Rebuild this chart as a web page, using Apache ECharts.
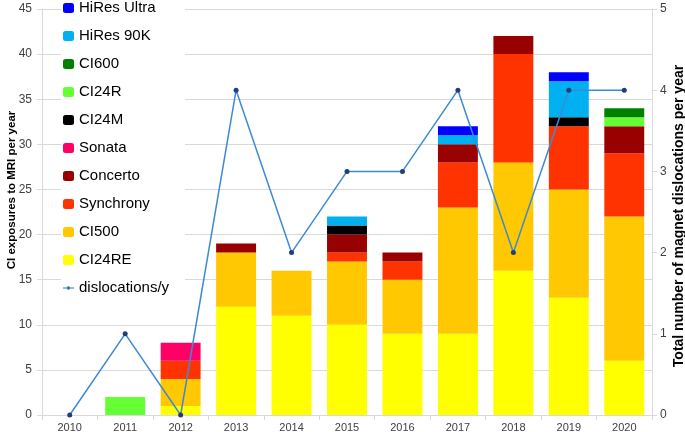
<!DOCTYPE html>
<html>
<head>
    <meta charset="utf-8">
    <title>CI MRI exposures</title>
    <script src="https://cdn.jsdelivr.net/npm/echarts@6/dist/echarts.min.js"></script>
    <style>
        html, body {margin:0;padding:0;background:#fff}
        #chart {width:685px;height:432px}
    </style>
</head>
<body>
<div id="chart"></div>
<script>
    // data
    var years = ['2010','2011','2012','2013','2014','2015','2016','2017','2018','2019','2020'];
    var ci24re     = [0, 0, 1, 12, 11, 10, 9, 9, 16, 13, 6];
    var ci500      = [0, 0, 3, 6, 5, 7, 6, 14, 12, 12, 16];
    var synchrony  = [0, 0, 2, 0, 0, 1, 2, 5, 12, 7, 7];
    var concerto   = [0, 0, 0, 1, 0, 2, 1, 2, 2, 0, 3];
    var sonata     = [0, 0, 2, 0, 0, 0, 0, 0, 0, 0, 0];
    var ci24m      = [0, 0, 0, 0, 0, 1, 0, 0, 0, 1, 0];
    var ci24r      = [0, 2, 0, 0, 0, 0, 0, 0, 0, 0, 1];
    var ci600      = [0, 0, 0, 0, 0, 0, 0, 0, 0, 0, 1];
    var hires90k   = [0, 0, 0, 0, 0, 1, 0, 1, 0, 4, 0];
    var hiresUltra = [0, 0, 0, 0, 0, 0, 0, 1, 0, 1, 0];
    var dislocations = [0, 1, 0, 4, 2, 3, 3, 4, 2, 4, 4];

    var leftTicks = {min: 0, max: 45, interval: 5};
    var rightTicks = {min: 0, max: 5, interval: 1};

    // stack order, bottom to top
    var stackDefs = [
        {name: 'CI24RE', data: ci24re, color: '#FFFF00'},
        {name: 'CI500', data: ci500, color: '#FFC800'},
        {name: 'Synchrony', data: synchrony, color: '#FF3300'},
        {name: 'Concerto', data: concerto, color: '#990000'},
        {name: 'Sonata', data: sonata, color: '#FF0066'},
        {name: 'CI24M', data: ci24m, color: '#000000'},
        {name: 'CI24R', data: ci24r, color: '#66FF33'},
        {name: 'CI600', data: ci600, color: '#008000'},
        {name: 'HiRes 90K', data: hires90k, color: '#00B0F0'},
        {name: 'HiRes Ultra', data: hiresUltra, color: '#0000FF'}
    ];

    var font = '"Liberation Sans", Arial, sans-serif';
    var series = stackDefs.map(function (d) {
        return {
            name: d.name,
            type: 'bar',
            stack: 'total',
            barWidth: '72%',
            itemStyle: {color: d.color},
            data: d.data
        };
    });
    series.push({
        name: 'dislocations/y',
        type: 'line',
        yAxisIndex: 1,
        symbol: 'circle',
        symbolSize: 5,
        lineStyle: {color: '#3C8AD4', width: 1.5},
        itemStyle: {color: '#1F3F78'},
        data: dislocations
    });

    var legendData = stackDefs.map(function (d) { return d.name; }).reverse();
    // line + dot icon for the line series
    legendData.push({
        name: 'dislocations/y',
        icon: 'path://M0,4.5L12,4.5L12,5.5L0,5.5Z M6,3.2A1.8,1.8 0 1 1 6,6.8A1.8,1.8 0 1 1 6,3.2Z',
        itemStyle: {color: '#2F6FB8'}
    });

    var chart = echarts.init(document.getElementById('chart'));
    chart.setOption({
        animation: false,
        textStyle: {fontFamily: font},
        grid: {left: 42, right: 33, top: 9, bottom: 17, containLabel: false, outerBoundsMode: 'none'},
        legend: {
            orient: 'vertical',
            left: 61,
            top: 0,
            padding: [0, 16, 4, 2],
            backgroundColor: '#fff',
            itemWidth: 11,
            itemHeight: 10,
            itemGap: 12,
            textStyle: {fontSize: 15, color: '#000', fontFamily: font, lineHeight: 16},
            data: legendData
        },
        xAxis: {
            type: 'category',
            data: years,
            axisLine: {lineStyle: {color: '#D9D9D9'}},
            axisTick: {show: true, lineStyle: {color: '#D9D9D9'}},
            axisLabel: {color: '#404040', fontSize: 11, margin: 7}
        },
        yAxis: [{
            type: 'value',
            min: leftTicks.min, max: leftTicks.max, interval: leftTicks.interval,
            name: 'CI exposures to MRI per year',
            nameLocation: 'middle',
            nameGap: 24,
            nameMoveOverlap: false,
            // shift the title up a little, as in the source
            nameTextStyle: {fontWeight: 'bold', fontSize: 11.5, color: '#000', padding: [0, 0, 0, 44]},
            axisLine: {show: true, lineStyle: {color: '#D9D9D9'}},
            axisTick: {show: true, lineStyle: {color: '#D9D9D9'}},
            axisLabel: {color: '#404040', fontSize: 12, margin: 10},
            splitLine: {lineStyle: {color: '#D9D9D9'}}
        }, {
            type: 'value',
            position: 'right',
            min: rightTicks.min, max: rightTicks.max, interval: rightTicks.interval,
            name: 'Total number of magnet dislocations per year',
            nameLocation: 'middle',
            nameGap: 20,
            nameMoveOverlap: false,
            nameTextStyle: {fontWeight: 'bold', fontSize: 14, color: '#000', padding: [0, 8, 0, 0]},
            axisLine: {show: true, lineStyle: {color: '#D9D9D9'}},
            axisTick: {show: true, lineStyle: {color: '#D9D9D9'}},
            axisLabel: {color: '#404040', fontSize: 12, margin: 8},
            splitLine: {show: false}
        }],
        series: series
    });
</script>
</body>
</html>
